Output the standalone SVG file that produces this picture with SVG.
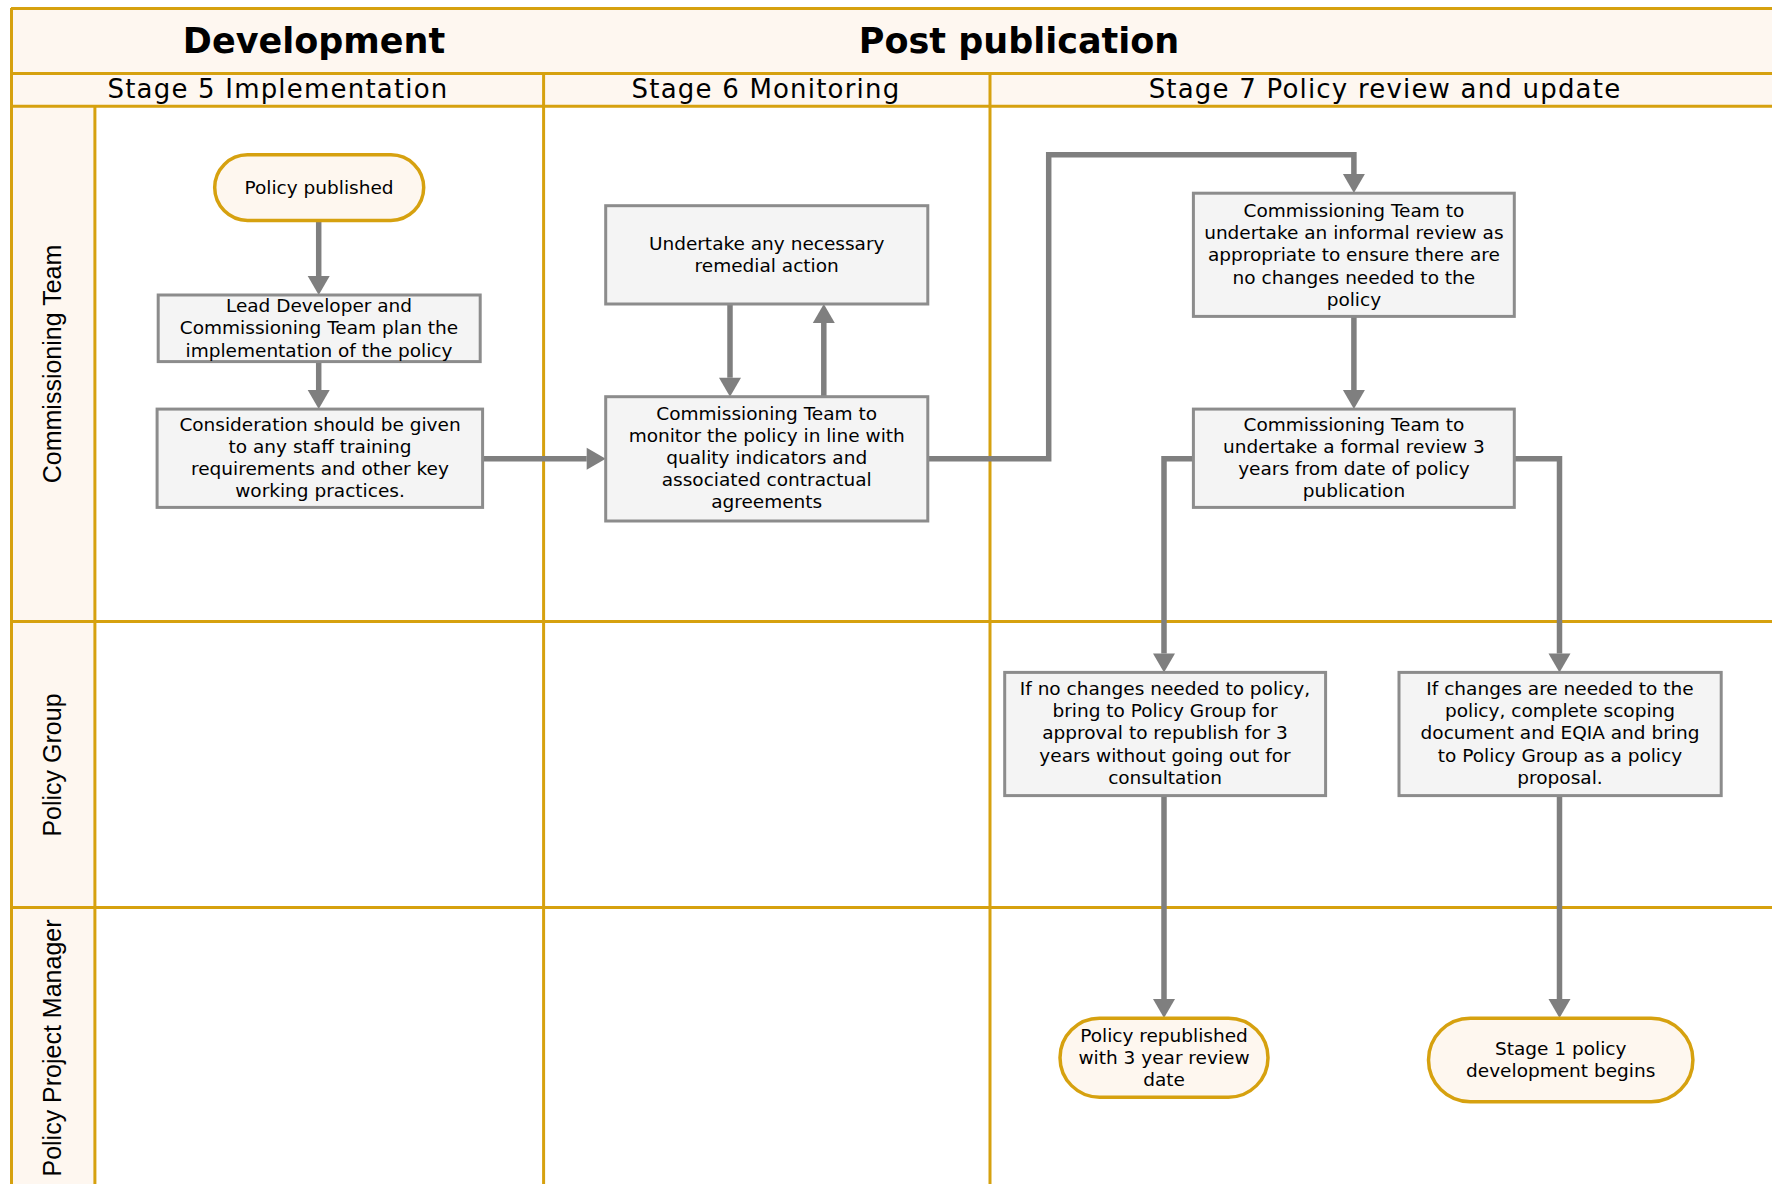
<svg xmlns="http://www.w3.org/2000/svg" width="1772" height="1184" viewBox="0 0 1772 1184">
<style>
.grid{stroke:#D6A10F;stroke-width:3;fill:none}
.cream{fill:#FEF7F0}
.hdr{font-family:"DejaVu Sans",sans-serif;font-weight:bold;font-size:35px;fill:#000;text-anchor:middle}
.stg{font-family:"DejaVu Sans",sans-serif;font-size:26px;letter-spacing:1.2px;fill:#000;text-anchor:middle}
.lane{font-family:"Liberation Sans",Arial,sans-serif;font-size:25px;fill:#000;text-anchor:middle}
.box{fill:#F4F4F4;stroke:#8C8C8C;stroke-width:3}
.term{fill:#FEF7EF;stroke:#D6A10F;stroke-width:3.5}
.t{font-family:"DejaVu Sans",sans-serif;font-size:18.5px;fill:#000;text-anchor:middle}
.conn{fill:none;stroke:#7F7F7F;stroke-width:5.5;stroke-linejoin:miter}
</style>
<defs>
<marker id="ah" markerUnits="userSpaceOnUse" markerWidth="24" markerHeight="24" refX="0" refY="11" orient="auto" viewBox="0 0 24 22" overflow="visible">
<path d="M0,0 L19,11 L0,22 z" fill="#7F7F7F"/>
</marker>
</defs>
<rect x="0" y="0" width="1772" height="1184" fill="#FFFFFF"/>
<g id="table">
<rect class="cream" x="11" y="8" width="1761" height="98"/>
<rect class="cream" x="11" y="106" width="84" height="1078"/>
<line class="grid" x1="11" y1="8.5" x2="1772" y2="8.5"/>
<line class="grid" x1="11.5" y1="8" x2="11.5" y2="1184"/>
<line class="grid" x1="11" y1="73.5" x2="1772" y2="73.5"/>
<line class="grid" x1="11" y1="106.2" x2="1772" y2="106.2"/>
<line class="grid" x1="543.6" y1="73.5" x2="543.6" y2="1184"/>
<line class="grid" x1="990" y1="73.5" x2="990" y2="1184"/>
<line class="grid" x1="94.9" y1="106" x2="94.9" y2="1184"/>
<line class="grid" x1="11" y1="621.6" x2="1772" y2="621.6"/>
<line class="grid" x1="11" y1="907.5" x2="1772" y2="907.5"/>
<text class="hdr" x="314" y="53">Development</text>
<text class="hdr" x="1019" y="53">Post publication</text>
<text class="stg" x="278" y="98">Stage 5 Implementation</text>
<text class="stg" x="766" y="98">Stage 6 Monitoring</text>
<text class="stg" x="1385" y="98">Stage 7 Policy review and update</text>
<text class="lane" transform="translate(61,364) rotate(-90)">Commissioning Team</text>
<text class="lane" transform="translate(61,765) rotate(-90)">Policy Group</text>
<text class="lane" transform="translate(61,1048) rotate(-90)">Policy Project Manager</text>
</g>
<g id="connectors">
<path class="conn" marker-end="url(#ah)" d="M318.7,220.4 V276"/>
<path class="conn" marker-end="url(#ah)" d="M318.7,361.6 V390"/>
<path class="conn" marker-end="url(#ah)" d="M482.6,458.8 H586.7"/>
<path class="conn" marker-end="url(#ah)" d="M730,304 V377.7"/>
<path class="conn" marker-end="url(#ah)" d="M823.8,396.7 V323"/>
<path class="conn" marker-end="url(#ah)" d="M927.8,458.8 H1048.7 V154.8 H1353.9 V174"/>
<path class="conn" marker-end="url(#ah)" d="M1353.9,316.4 V390"/>
<path class="conn" marker-end="url(#ah)" d="M1193.4,458.8 H1164 V653.4"/>
<path class="conn" marker-end="url(#ah)" d="M1514.3,458.8 H1559.5 V653.4"/>
<path class="conn" marker-end="url(#ah)" d="M1164,795.6 V999"/>
<path class="conn" marker-end="url(#ah)" d="M1559.5,795.6 V999"/>
</g>
<g id="n1">
<rect class="term" x="214.7" y="154.8" width="209" height="65.6" rx="32.8"/>
<text class="t" x="319" y="194">Policy published</text>
</g>
<g id="n2">
<rect class="box" x="158.2" y="295" width="322" height="66.6"/>
<text class="t" x="319" y="311.6">Lead Developer and<tspan x="319" dy="22.6">Commissioning Team plan the</tspan><tspan x="319" dy="22.6">implementation of the policy</tspan></text>
</g>
<g id="n3">
<rect class="box" x="157.1" y="409.1" width="325.5" height="98.3"/>
<text class="t" x="320" y="431.4">Consideration should be given<tspan x="320" dy="22">to any staff training</tspan><tspan x="320" dy="22">requirements and other key</tspan><tspan x="320" dy="22">working practices.</tspan></text>
</g>
<g id="n4">
<rect class="box" x="605.7" y="205.7" width="322.1" height="98.3"/>
<text class="t" x="766.7" y="249.5">Undertake any necessary<tspan x="766.7" dy="22.5">remedial action</tspan></text>
</g>
<g id="n5">
<rect class="box" x="605.7" y="396.7" width="322.1" height="124.3"/>
<text class="t" x="766.7" y="420">Commissioning Team to<tspan x="766.7" dy="22">monitor the policy in line with</tspan><tspan x="766.7" dy="22">quality indicators and</tspan><tspan x="766.7" dy="22">associated contractual</tspan><tspan x="766.7" dy="22">agreements</tspan></text>
</g>
<g id="n6">
<rect class="box" x="1193.4" y="193.2" width="320.9" height="123.2"/>
<text class="t" x="1353.9" y="216.7">Commissioning Team to<tspan x="1353.9" dy="22.3">undertake an informal review as</tspan><tspan x="1353.9" dy="22.3">appropriate to ensure there are</tspan><tspan x="1353.9" dy="22.3">no changes needed to the</tspan><tspan x="1353.9" dy="22.3">policy</tspan></text>
</g>
<g id="n7">
<rect class="box" x="1193.4" y="409.1" width="320.9" height="98.3"/>
<text class="t" x="1353.9" y="431.4">Commissioning Team to<tspan x="1353.9" dy="22">undertake a formal review 3</tspan><tspan x="1353.9" dy="22">years from date of policy</tspan><tspan x="1353.9" dy="22">publication</tspan></text>
</g>
<g id="n8">
<rect class="box" x="1004.7" y="672.4" width="320.9" height="123.2"/>
<text class="t" x="1165" y="694.7">If no changes needed to policy,<tspan x="1165" dy="22.3">bring to Policy Group for</tspan><tspan x="1165" dy="22.3">approval to republish for 3</tspan><tspan x="1165" dy="22.3">years without going out for</tspan><tspan x="1165" dy="22.3">consultation</tspan></text>
</g>
<g id="n9">
<rect class="box" x="1399" y="672.4" width="322.2" height="123.2"/>
<text class="t" x="1560" y="694.7">If changes are needed to the<tspan x="1560" dy="22.3">policy, complete scoping</tspan><tspan x="1560" dy="22.3">document and EQIA and bring</tspan><tspan x="1560" dy="22.3">to Policy Group as a policy</tspan><tspan x="1560" dy="22.3">proposal.</tspan></text>
</g>
<g id="n10">
<rect class="term" x="1060" y="1018.2" width="208" height="79" rx="39.5"/>
<text class="t" x="1164" y="1041.7">Policy republished<tspan x="1164" dy="22">with 3 year review</tspan><tspan x="1164" dy="22">date</tspan></text>
</g>
<g id="n11">
<rect class="term" x="1428.5" y="1018.2" width="264.4" height="83.6" rx="41.8"/>
<text class="t" x="1560.7" y="1055.2">Stage 1 policy<tspan x="1560.7" dy="21.5">development begins</tspan></text>
</g>
</svg>
